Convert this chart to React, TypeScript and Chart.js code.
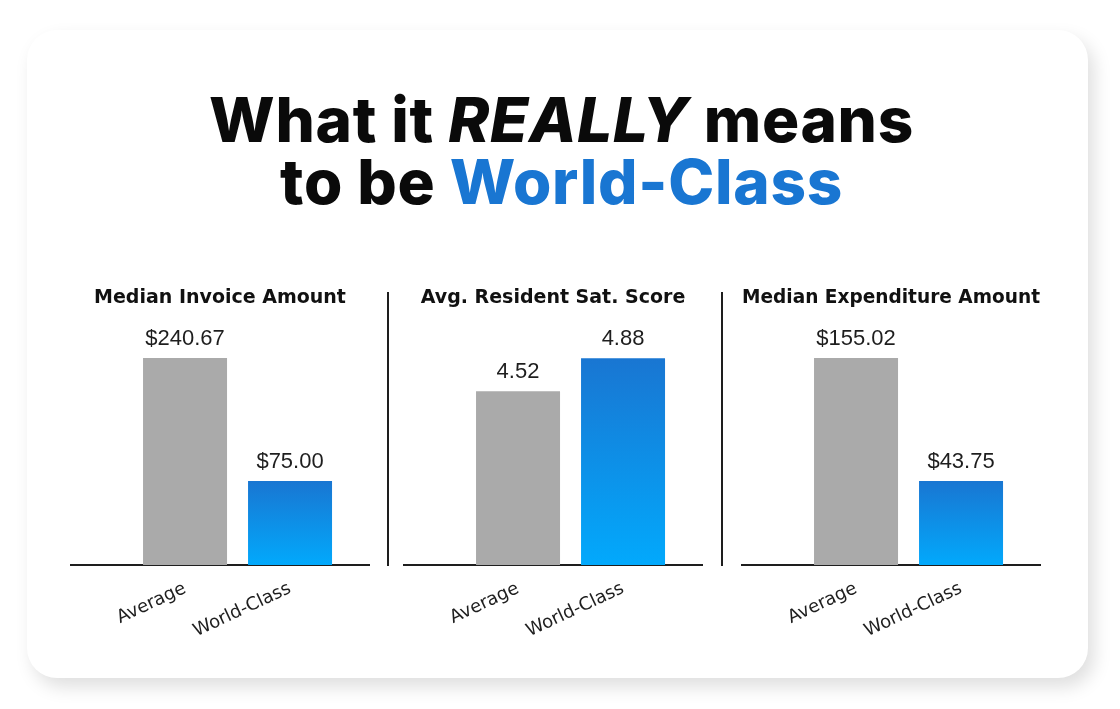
import React, { useEffect, useRef } from "react";
import { Chart, registerables } from "chart.js";

Chart.register(...registerables);

// ---- data ----
const categories = ["Average", "World-Class"];
const categoryPositions = [1, 2];
const chartTitles = [
  "Median Invoice Amount",
  "Avg. Resident Sat. Score",
  "Median Expenditure Amount",
];
const invoiceValues = [240.67, 75.0];
const satisfactionValues = [4.52, 4.88];
const expenditureValues = [155.02, 43.75];
const valuePrefixes = ["$", "", "$"];
// value-axis bounds per panel (the original uses a truncated scale)
const axisMin = [-38.1, 2.62, -32.2];
const axisMax = [278.4, 5.19, 180.4];
const xAxisMin = -0.086;
const xAxisMax = 2.752;

const GRAY = "#aaaaaa";
const BLUE_TOP = "#1976d2";
const BLUE_BOTTOM = "#02a9fc";

const valueLabelPlugin = {
  id: "valueLabels",
  afterDatasetsDraw(chart: any, _args: any, opts: any) {
    const { ctx } = chart;
    const meta = chart.getDatasetMeta(0);
    const data = chart.data.datasets[0].data as any[];
    ctx.save();
    ctx.font = "22px 'Liberation Sans', Arial, sans-serif";
    ctx.fillStyle = "#1e1e1e";
    ctx.textAlign = "center";
    ctx.textBaseline = "alphabetic";
    meta.data.forEach((bar: any, i: number) => {
      const v = data[i].y as number;
      ctx.fillText(opts.prefix + v.toFixed(2), bar.x, bar.y - 13);
    });
    ctx.restore();
  },
};

function Panel(props: {
  title: string;
  values: number[];
  prefix: string;
  yMin: number;
  yMax: number;
  left: number;
}) {
  const ref = useRef<HTMLCanvasElement | null>(null);
  useEffect(() => {
    if (!ref.current) return;
    const { values, yMin, yMax } = props;
    const chart = new Chart(ref.current, {
      type: "bar",
      data: {
        datasets: [
          {
            data: categoryPositions.map((x, i) => ({ x, y: values[i] })),
            base: yMin,
            categoryPercentage: 1,
            barPercentage: 0.8,
            borderWidth: 0,
            backgroundColor: (c: any) => {
              if (c.type !== "data") return GRAY;
              if (c.dataIndex === 0) return GRAY;
              const ch = c.chart;
              const ys = ch.scales && ch.scales.y;
              if (!ch.chartArea || !ys) return BLUE_TOP;
              const top = ys.getPixelForValue(values[c.dataIndex]);
              const bottom = ys.getPixelForValue(yMin);
              const g = ch.ctx.createLinearGradient(0, top, 0, bottom);
              g.addColorStop(0, BLUE_TOP);
              g.addColorStop(1, BLUE_BOTTOM);
              return g;
            },
          } as any,
        ],
      },
      options: {
        animation: false,
        responsive: false,
        layout: { padding: { left: 15, right: 17, top: 0, bottom: 0 } },
        plugins: {
          legend: { display: false },
          tooltip: { enabled: false },
          title: {
            display: true,
            text: props.title,
            color: "#111111",
            font: { family: "'DejaVu Sans', sans-serif", size: 19, weight: "bold" as any },
            padding: { top: 6.6, bottom: 20.6 },
          },
          valueLabels: { prefix: props.prefix },
        } as any,
        scales: {
          x: {
            type: "linear",
            offset: false,
            min: xAxisMin,
            max: xAxisMax,
            grid: { display: false, drawTicks: false, offset: false },
            border: { display: true, color: "#1e1e1e", width: 2 },
            afterBuildTicks: (axis: any) => {
              axis.ticks = categoryPositions.map((v) => ({ value: v }));
            },
            afterFit: (axis: any) => {
              axis.height = 85;
            },
            ticks: {
              autoSkip: false,
              minRotation: 25,
              maxRotation: 25,
              padding: 13,
              color: "#1e1e1e",
              font: { family: "'DejaVu Sans', sans-serif", size: 18 },
              callback: (v: any) => {
                const idx = categoryPositions.indexOf(Number(v));
                return idx >= 0 ? categories[idx] : "";
              },
            },
          } as any,
          y: { display: false, min: yMin, max: yMax },
        },
      },
      plugins: [valueLabelPlugin],
    });
    return () => chart.destroy();
  }, []);
  return (
    <canvas
      ref={ref}
      width={330}
      height={370}
      style={{ position: "absolute", left: props.left, top: 280, width: 330, height: 370 }}
    />
  );
}

export default function App() {
  const panels = [
    { values: invoiceValues, left: 56 },
    { values: satisfactionValues, left: 389 },
    { values: expenditureValues, left: 727 },
  ];
  return (
    <div
      style={{
        position: "absolute",
        left: 0,
        top: 0,
        width: 1120,
        height: 709,
        background: "#ffffff",
        overflow: "hidden",
      }}
    >
      <div
        style={{
          position: "absolute",
          left: 27,
          top: 30,
          width: 1061,
          height: 648,
          borderRadius: 30,
          background: "#ffffff",
          boxShadow: "6px 9px 18px rgba(0,0,0,0.13)",
        }}
      />
      <div
        style={{
          position: "absolute",
          left: 0,
          top: 89,
          width: 1123,
          textAlign: "center",
          fontFamily: "Inter, 'Open Sans', sans-serif",
          fontWeight: 800,
          fontSize: 62,
          lineHeight: "62px",
          letterSpacing: 0.7,
          color: "#0a0a0a",
        }}
      >
        <div>
          What it <span style={{ fontStyle: "italic" }}>REALLY</span> means
        </div>
        <div>
          to be <span style={{ color: "#1976d2" }}>World-Class</span>
        </div>
      </div>
      <div style={{ position: "absolute", left: 387, top: 292, width: 2, height: 274, background: "#1e1e1e" }} />
      <div style={{ position: "absolute", left: 721, top: 292, width: 2, height: 274, background: "#1e1e1e" }} />
      {panels.map((p, i) => (
        <Panel
          key={i}
          title={chartTitles[i]}
          values={p.values}
          prefix={valuePrefixes[i]}
          yMin={axisMin[i]}
          yMax={axisMax[i]}
          left={p.left}
        />
      ))}
    </div>
  );
}
